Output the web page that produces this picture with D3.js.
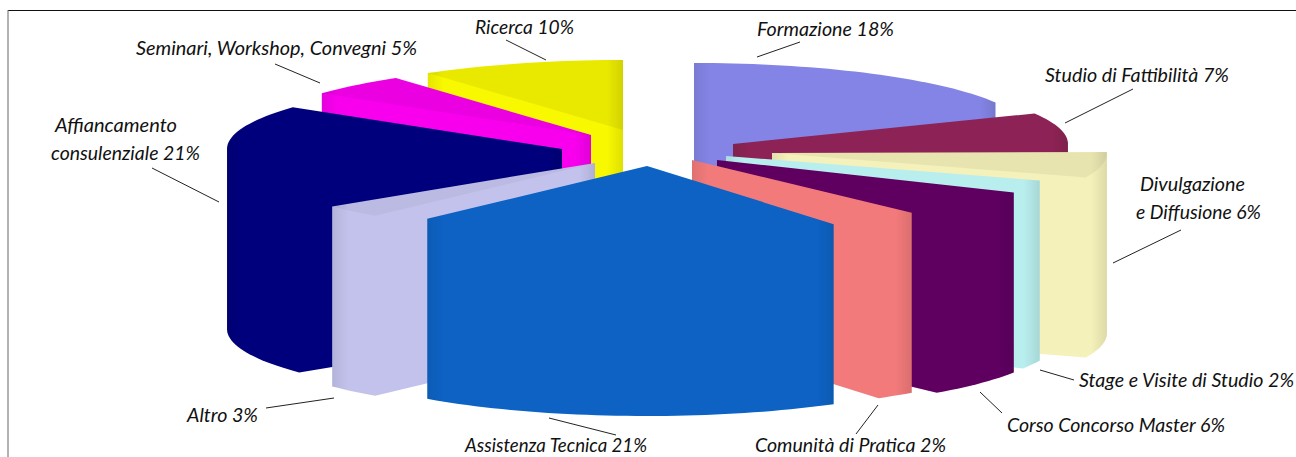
<!DOCTYPE html>
<html>
<head>
<meta charset="utf-8">
<script src="https://d3js.org/d3.v7.min.js"></script>
<style>
  html, body { margin: 0; padding: 0; background: #fff; }
  svg { display: block; }
  text { font-family: Lato, "Open Sans", sans-serif; font-style: italic; fill: #111; }
</style>
</head>
<body>
<svg id="chart" width="1296" height="457"></svg>
<script>
// values, clockwise from 12 o'clock
const categories = ['Formazione', 'Studio di Fattibilità', 'Divulgazione e Diffusione', 'Stage e Visite di Studio',
    'Corso Concorso Master', 'Comunità di Pratica', 'Assistenza Tecnica', 'Altro',
    'Affiancamento consulenziale', 'Seminari, Workshop, Convegni', 'Ricerca'];
const shares = [18, 7, 6, 2, 6, 2, 21, 3, 21, 5, 10];
const sliceColors = ['#8484e6', '#8c2354', '#f4f1ba', '#b9eeee', '#5e0060', '#f27a7a',
    '#0862c4', '#c2c2ec', '#00007c', '#f800ee', '#f8f800'];
// how much darker the top face is than the wall, where it shows at all
const topShade = [0, 0, 0.05, 0, 0, 0, 0, 0.04, 0, 0.05, 0.06];

// layout: where the tip of every exploded slice lands, and draw order (back to front)
const sliceTips = [[694, 133], [733, 144], [772, 153], [726, 156], [717, 160], [692, 160],
    [647, 166], [595, 163], [562, 149], [591, 135], [623, 130]];
const drawOrder = [10, 0, 9, 1, 2, 8, 3, 4, 7, 5, 6];

// label text lines with x, baseline, width as measured
const labels = [
    {lines: [['Formazione 18%', 757, 36, 137]], leader: [800, 42, 757, 57]},
    {lines: [['Studio di Fattibilità 7%', 1045, 82, 184]], leader: [1133, 89, 1065, 123]},
    {lines: [['Divulgazione', 1140, 191, 105], ['e Diffusione 6%', 1136, 219, 125]], leader: [1181, 230, 1113, 263]},
    {lines: [['Stage e Visite di Studio 2%', 1079, 387, 215]], leader: [1040, 370, 1074, 380]},
    {lines: [['Corso Concorso Master 6%', 1007, 432, 218]], leader: [980, 392, 1002, 413]},
    {lines: [['Comunità di Pratica 2%', 755, 452, 191]], leader: [878, 405, 856, 434]},
    {lines: [['Assistenza Tecnica 21%', 465, 452, 182]], leader: [549, 418, 616, 435]},
    {lines: [['Altro 3%', 187, 422, 71]], leader: [266, 408, 334, 398]},
    {lines: [['Affiancamento', 55, 132, 122], ['consulenziale 21%', 51, 160, 149]], leader: [152, 168, 219, 202]},
    {lines: [['Seminari, Workshop, Convegni 5%', 136, 55, 281]], leader: [275, 64, 320, 83]},
    {lines: [['Ricerca 10%', 475, 34, 99]], leader: [506, 40, 546, 60]}
];

const width = 1296, height = 457;
const radiusX = 335, radiusY = 70, depth = 180;

const svg = d3.select('#chart');
const defs = svg.append('defs');

defs.append('filter').attr('id', 'soft')
    .attr('x', '-5%').attr('y', '-5%').attr('width', '110%').attr('height', '110%')
    .append('feGaussianBlur').attr('stdDeviation', 0.7);

// frame, only top and left are inside the crop
svg.append('line').attr('x1', 8).attr('y1', 10.5).attr('x2', width).attr('y2', 10.5)
    .attr('stroke', '#111').attr('stroke-width', 1);
svg.append('line').attr('x1', 8).attr('y1', 10).attr('x2', 8).attr('y2', height)
    .attr('stroke', '#666').attr('stroke-width', 1);

const pie = d3.pie().sort(null).value(d => d)(shares);

// flat projection of the tilted pie; theta is clockwise from the top
const sx = d3.scaleLinear().domain([-1, 1]).range([-radiusX, radiusX]);
const sy = d3.scaleLinear().domain([-1, 1]).range([radiusY, -radiusY]);
const sz = d3.scaleLinear().domain([0, 1]).range([0, depth]);

function project(tip, theta, r, z) {
    return [tip[0] + sx(r * Math.sin(theta)), tip[1] + sy(r * Math.cos(theta)) + sz(z)];
}

function arcPoints(tip, a0, a1, z) {
    const n = Math.max(2, Math.ceil((a1 - a0) / 0.03));
    return d3.range(n + 1).map(i => project(tip, a0 + (a1 - a0) * i / n, 1, z));
}

const path = d3.line();

// one gradient over the whole slice, only its two side ends go darker
function addGradient(id, color, x0, x1) {
    const c = d3.color(color);
    const span = x1 - x0;
    const g = defs.append('linearGradient').attr('id', id)
        .attr('gradientUnits', 'userSpaceOnUse')
        .attr('x1', x0).attr('y1', 0).attr('x2', x1).attr('y2', 0);
    g.append('stop').attr('offset', 0).attr('stop-color', c.darker(0.22));
    g.append('stop').attr('offset', 16 / span).attr('stop-color', c);
    g.append('stop').attr('offset', 1 - 16 / span).attr('stop-color', c);
    g.append('stop').attr('offset', 1).attr('stop-color', c.darker(0.28));
}

const chart = svg.append('g').attr('filter', 'url(#soft)');

drawOrder.forEach(i => {
    const d = pie[i];
    const tip = sliceTips[i];
    const top = [project(tip, d.startAngle, 0, 0)].concat(arcPoints(tip, d.startAngle, d.endAngle, 0));
    const bottom = [project(tip, d.startAngle, 0, 1)].concat(arcPoints(tip, d.startAngle, d.endAngle, 1));
    const xs = top.map(p => p[0]);
    addGradient('wall' + i, sliceColors[i], d3.min(xs), d3.max(xs));

    const g = chart.append('g').attr('class', 'slice');

    // the prism seen from above is convex, so its outline is the hull of both faces
    g.append('path')
        .attr('d', path(d3.polygonHull(top.concat(bottom))) + 'Z')
        .attr('fill', `url(#wall${i})`);

    if (topShade[i] > 0) {
        g.append('path').attr('d', path(top) + 'Z')
            .attr('fill', '#000').attr('fill-opacity', topShade[i]);
    }
});

// leaders and labels
const lab = svg.append('g').selectAll('g').data(labels).join('g');

lab.append('line')
    .attr('x1', d => d.leader[0]).attr('y1', d => d.leader[1])
    .attr('x2', d => d.leader[2]).attr('y2', d => d.leader[3])
    .attr('stroke', '#222').attr('stroke-width', 1);

lab.selectAll('text').data(d => d.lines).join('text')
    .attr('x', d => d[1])
    .attr('y', d => d[2])
    .attr('font-size', 19)
    .attr('textLength', d => d[3])
    .attr('lengthAdjust', 'spacingAndGlyphs')
    .text(d => d[0]);
</script>
</body>
</html>
